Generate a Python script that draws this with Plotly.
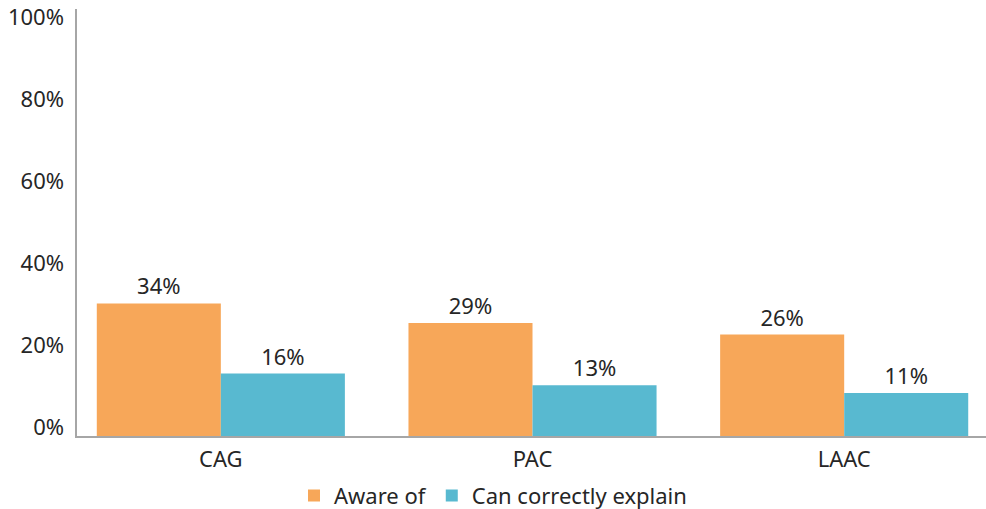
import plotly.graph_objects as go

categories = ["CAG", "PAC", "LAAC"]
aware_of = [34, 29, 26]
can_explain = [16, 13, 11]
series_names = ["Aware of", "Can correctly explain"]
tick_values = [0, 20, 40, 60, 80, 100]
tick_labels = ["0%", "20%", "40%", "60%", "80%", "100%"]

ORANGE = "#F7A759"
BLUE = "#58B9D0"
TEXT = "#262626"
AXIS = "#A6A6A6"
FONT = "Noto Sans"
FS = 22

fig = go.Figure()
fig.add_trace(go.Bar(
    x=categories, y=aware_of, name=series_names[0], marker_color=ORANGE,
    marker_line_width=0,
    text=[f"{v}%" for v in aware_of], textposition="outside",
    textfont=dict(size=FS, color=TEXT, family=FONT), cliponaxis=False,
))
fig.add_trace(go.Bar(
    x=categories, y=can_explain, name=series_names[1], marker_color=BLUE,
    marker_line_width=0,
    text=[f"{v}%" for v in can_explain], textposition="outside",
    textfont=dict(size=FS, color=TEXT, family=FONT), cliponaxis=False,
))
# invisible trace so the label axis is drawn
fig.add_trace(go.Scatter(x=[categories[0]], y=[None], yaxis="y2", showlegend=False,
                         hoverinfo="skip", mode="markers"))

fig.update_layout(
    width=986, height=509,
    margin=dict(l=77, r=0, t=9, b=73, autoexpand=False),
    paper_bgcolor="white", plot_bgcolor="white",
    font=dict(family=FONT, size=FS, color=TEXT),
    barmode="group", bargap=0.204, bargroupgap=0,
    showlegend=True,
    legend=dict(orientation="h", xref="container", yref="container",
                x=0.5, xanchor="center", y=0.026, yanchor="middle",
                font=dict(size=FS, color=TEXT, family=FONT),
                itemwidth=30, tracegroupgap=0),
    xaxis=dict(range=[-0.4615, 2.455], showline=True, linecolor=AXIS, linewidth=2,
               ticks="", showgrid=False, zeroline=False, ticklabelstandoff=3,
               tickfont=dict(size=FS, color=TEXT, family=FONT)),
    yaxis=dict(range=[0, 109.5], showline=True, linecolor=AXIS, linewidth=2,
               showticklabels=False, ticks="", showgrid=False, zeroline=False),
    yaxis2=dict(range=[-2.07, 102.07], overlaying="y", side="left",
                tickvals=tick_values, ticktext=tick_labels, showline=False,
                showgrid=False, zeroline=False, ticks="", ticklabelstandoff=12,
                tickfont=dict(size=FS, color=TEXT, family=FONT)),
)

fig.write_html("out.html", config={"displayModeBar": False},
               post_script="document.body.style.margin='0';")
